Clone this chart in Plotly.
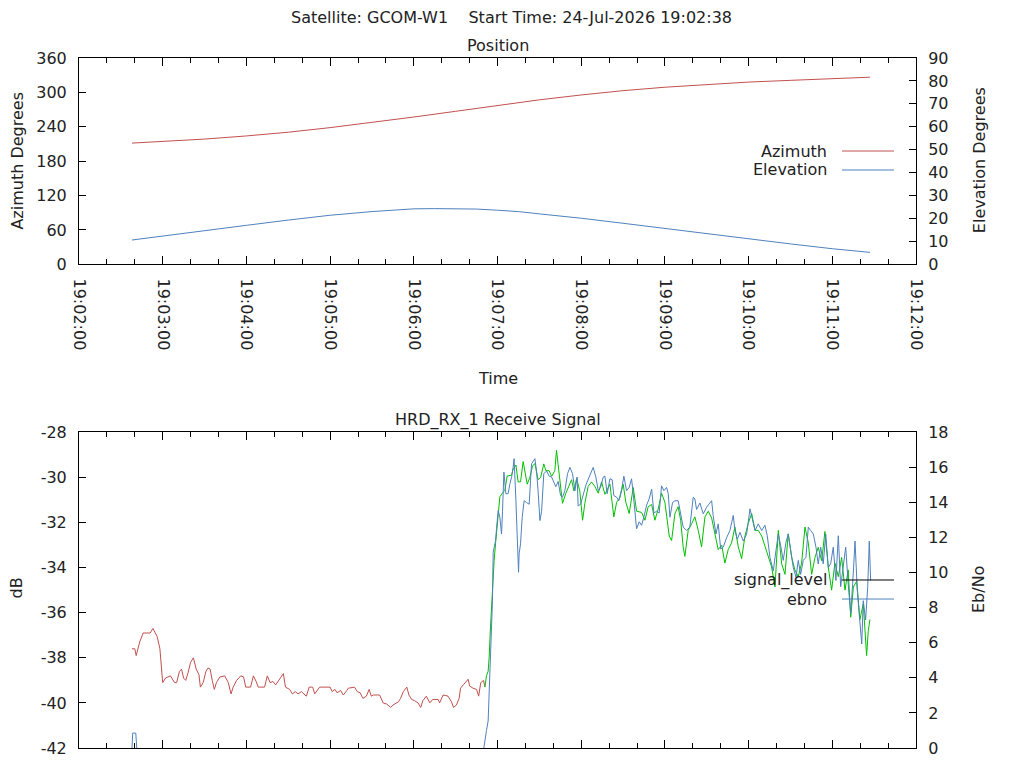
import pandas as pd
import plotly.graph_objects as go

# Pass info
title_text = "Satellite: GCOM-W1    Start Time: 24-Jul-2026 19:02:38"
start = pd.Timestamp("2026-07-24 19:02:00")
end = pd.Timestamp("2026-07-24 19:12:00")

# Position (seconds after 19:02:00)
az_sec = [38, 60, 90, 120, 150, 180, 210, 240, 270, 300, 330, 360, 390, 420, 450, 480, 510, 540, 567]
azimuth = [211.5, 214, 218.5, 224, 230.5, 238.5, 247.5, 257, 267, 277, 287, 295.5, 303, 309, 314, 318, 321, 324, 326.5]
el_sec = [38, 60, 90, 120, 150, 180, 210, 225, 240, 255, 270, 285, 300, 315, 330, 345, 360, 390, 420, 450, 480, 510, 540, 567]
elevation = [10.6, 12.4, 14.8, 17.0, 19.3, 21.4, 23.0, 23.7, 24.2, 24.3, 24.3, 24.1, 23.6, 23.0, 22.0, 21.1, 20.1, 17.9,
             15.6, 13.3, 11.05, 8.9, 6.8, 5.2]

# Signal level before lock (red)
unlock_sec = [38, 40, 41, 43.5, 46, 51, 53, 56, 58, 59, 60, 62, 65.5, 68.5, 70, 72, 73.5, 75, 76.5, 78,
              80, 82, 84, 86, 87, 89, 91, 92.5, 94, 95.5, 97, 98.5, 101, 104.5, 107, 109, 110.5, 113, 116, 118,
              119.5, 123, 125, 127, 128.5, 133, 135, 137, 139, 141, 143, 145, 146.5, 148, 151, 153, 155, 157, 159.5, 162,
              163, 165, 167.5, 169, 171, 172.5, 180, 181.5, 183.5, 185, 187.5, 189.5, 192, 193, 197.5, 199.5, 201.5, 203.5, 206, 208,
              209.5, 211, 213.5, 215.5, 218, 220.5, 223.5, 225, 229, 230.5, 232.5, 235, 236.5, 238.5, 240.5, 243, 245, 246.5,
              249, 251.5, 253.5, 257.5, 258.5, 261, 264.5, 267, 268.5, 270.5, 272.5, 273.5, 275.5, 278, 279, 280, 282.5, 285,
              286.5, 288, 290, 291]
unlock_db = [-37.6, -37.6, -37.9, -37.3, -36.9, -36.9, -36.7, -37.05, -37.6, -38.2, -39.1, -38.9, -38.8, -39.1, -39.1, -38.6, -38.5, -38.9, -39.0, -38.7,
             -38.2, -38.0, -38.5, -38.75, -39.3, -39.1, -38.6, -38.45, -38.5, -39.0, -39.4, -39.1, -38.85, -38.8, -39.1, -39.6, -39.3, -39.0, -38.8, -38.85,
             -39.3, -39.3, -38.8, -39.05, -39.3, -39.3, -38.8, -39.1, -39.05, -39.2, -39.0, -38.8, -38.7, -39.3, -39.4, -39.6, -39.5, -39.6, -39.5, -39.65,
             -39.7, -39.3, -39.3, -39.6, -39.4, -39.3, -39.3, -39.5, -39.4, -39.55, -39.45, -39.65, -39.45, -39.35, -39.3, -39.5, -39.55, -39.8, -39.7, -39.4,
             -39.7, -39.65, -39.65, -39.65, -40.0, -40.05, -40.2, -40.1, -39.95, -39.8, -39.5, -39.3, -39.65, -39.85, -39.9, -40.0, -40.2, -39.9,
             -39.7, -40.0, -39.85, -39.85, -40.0, -39.65, -39.7, -39.95, -40.2, -40.1, -39.8, -39.35, -39.2, -38.98, -38.95, -39.25, -39.35, -39.4,
             -39.7, -39.1, -39.0, -39.3]

# Signal level after lock (green)
lock_sec = [291, 292.1, 293.3, 294.0, 295.0, 295.7, 296.4, 297.6, 298.6, 299.7, 300.5, 301.7, 303.3, 305.3, 306.9, 310.1, 311.2, 313.2,
            314.8, 316.5, 318.4, 319.6, 321.3, 323.2, 325.1, 326.8, 329.1, 330.9, 333.2, 334.7, 337.0, 338.8, 341.1, 342.3, 343.5, 345.2,
            346.6, 349.0, 351.4, 353.1, 354.8, 356.7, 359.0, 361.0, 362.6, 365.0, 367.4, 369.8, 372.2, 374.6, 377.0, 380.6, 383.4, 385.4,
            387.7, 390.1, 392.0, 394.4, 397.3, 399.7, 403.3, 405.7, 408.0, 410.5, 412.8, 415.2, 417.6, 420.0, 423.1, 424.8, 427.2, 429.5,
            431.3, 433.1, 434.3, 436.7, 439.2, 441.5, 443.9, 446.3, 448.7, 451.1, 453.5, 455.9, 458.2, 460.7, 463.0, 465.4, 467.8, 470.2,
            472.6, 475.0, 477.4, 479.7, 482.2, 484.6, 486.9, 489.4, 491.7, 494.1, 496.5, 498.9, 501.3, 503.7, 506.1, 508.4, 510.9, 513.2,
            515.6, 518.0, 520.4, 522.8, 525.2, 527.6, 529.9, 532.4, 534.7, 537.1, 539.5, 541.9, 544.3, 546.7, 549.1, 551.4, 553.2, 555.1,
            557.5, 559.8, 562.2, 564.6, 565.8, 567.0]
lock_db = [-39.3, -38.8, -38.6, -38.0, -36.6, -35.7, -34.86, -33.68, -32.93, -32.2, -31.38, -30.86, -30.71, -30.57, -29.94, -29.9, -29.64, -29.45,
           -30.2, -30.2, -29.3, -29.8, -30.3, -30.0, -29.5, -29.38, -30.1, -30.0, -29.4, -29.7, -29.7, -29.95, -29.7, -28.8, -29.5, -30.5,
           -31.15, -30.7, -30.3, -30.1, -30.6, -30.05, -30.6, -31.9, -31.15, -30.4, -30.2, -30.4, -30.7, -30.2, -30.75, -30.3, -31.75, -31.1,
           -30.9, -30.3, -31.1, -31.6, -30.45, -31.5, -31.55, -31.9, -31.3, -31.2, -31.9, -31.4, -30.7, -31.1, -32.6, -32.8, -31.6, -31.3,
           -31.9, -33.08, -33.5, -32.35, -32.05, -31.75, -32.35, -33.08, -31.75, -31.5, -31.8, -32.5, -33.2, -33.0, -33.8, -33.2, -32.9, -32.2,
           -33.08, -33.6, -32.6, -32.05, -31.6, -32.35, -32.35, -32.6, -33.08, -33.55, -33.97, -34.86, -32.35, -33.83, -34.3, -32.5, -33.55, -34.1,
           -34.4, -33.8, -32.2, -32.9, -34.3, -33.55, -33.1, -33.7, -32.4, -33.97, -35.0, -33.8, -34.4, -33.55, -35.0, -34.1, -36.2, -34.86,
           -34.6, -36.3, -35.6, -37.9, -36.8, -36.3]

# Eb/No (no reading while unlocked -> None)
ebno_sec = [38.0, 38.5, 40.7, 41.4, 160, 290.2, 291.4, 292.1, 293.3, 294.0, 295.0, 295.7, 296.4, 296.9, 298.6, 299.3, 300.5, 301.7, 302.9, 303.6,
            304.6, 306.0, 307.6, 308.9, 310.1, 311.2, 311.9, 313.2, 314.1, 315.1, 315.5, 316.5, 317.7, 319.1, 320.8, 322.7, 323.7, 324.4,
            326.8, 328.0, 329.1, 330.4, 331.6, 333.2, 335.2, 337.0, 338.8, 339.9, 341.8, 343.5, 345.2, 346.6, 348.3, 350.2, 351.9, 353.8,
            355.5, 357.1, 357.8, 359.6, 361.4, 363.4, 365.7, 367.4, 368.6, 370.5, 372.2, 373.9, 375.8, 377.0, 378.6, 380.6, 382.2, 383.4,
            385.4, 387.0, 389.0, 390.6, 392.5, 394.4, 396.1, 397.3, 398.5, 399.7, 401.6, 403.3, 404.9, 406.9, 408.7, 410.5, 412.1, 414.1,
            415.9, 417.6, 419.3, 421.2, 422.4, 423.6, 425.5, 427.2, 429.5, 431.3, 433.1, 435.6, 437.9, 440.3, 441.5, 442.7, 445.1, 447.5,
            449.9, 453.5, 454.6, 456.6, 458.2, 460.0, 461.8, 464.3, 466.6, 469.0, 470.2, 471.9, 473.8, 476.2, 478.6, 481.0, 482.9, 484.6,
            486.9, 489.4, 491.7, 493.4, 495.3, 497.7, 499.6, 501.3, 503.0, 504.8, 506.8, 508.4, 510.2, 512.0, 514.0, 515.6, 517.3, 519.2,
            521.1, 522.8, 524.5, 526.4, 528.3, 529.9, 531.7, 533.5, 535.3, 537.1, 538.8, 540.7, 542.6, 544.3, 546.0, 547.9, 549.6, 551.4,
            553.2, 554.6, 556.3, 557.9, 559.3, 561.1, 562.2, 563.9, 565.4, 566.5, 567.5]
ebno = [0, 0.85, 0.85, 0, None, 0, 0.78, 1.0, 1.54, 3.26, 5.54, 7.64, 8.4, 11.16, 11.83, 12.5, 13.54, 13.16, 12.2, 13.5,
        15.73, 14.5, 14.5, 15.07, 15.44, 16.0, 16.5, 14.1, 11.64, 10.02, 11.07, 11.64, 13.16, 14.1, 14.0, 13.9, 15.26, 16.2,
        16.5, 15.8, 14.66, 12.97, 13.5, 15.64, 15.8, 15.5, 15.45, 15.26, 14.9, 15.2, 14.4, 14.3, 14.67, 15.64, 16.0, 15.64,
        14.67, 15.45, 13.8, 13.9, 14.5, 15.0, 15.45, 15.8, 16.0, 15.45, 14.67, 14.86, 15.45, 15.5, 14.5, 15.35, 15.3, 14.4,
        14.3, 14.1, 14.76, 15.5, 14.67, 14.86, 15.35, 14.5, 13.66, 12.5, 12.9, 12.7, 13.16, 13.85, 14.2, 14.76, 13.4, 13.5,
        13.4, 14.95, 14.67, 14.86, 14.5, 13.16, 14.0, 14.1, 14.1, 13.26, 12.6, 12.4, 12.6, 14.3, 14.2, 13.6, 13.97, 13.35,
        13.73, 14.1, 13.26, 12.2, 12.78, 11.35, 11.45, 12.0, 12.4, 13.26, 12.4, 11.9, 12.3, 11.8, 12.2, 13.64, 12.97, 12.4,
        12.78, 12.4, 12.7, 12.1, 10.87, 10.1, 11.26, 12.2, 11.55, 10.7, 11.73, 12.2, 11.26, 10.3, 9.73, 10.7, 9.9, 10.7,
        10.87, 12.59, 12.4, 12.2, 11.45, 10.5, 11.45, 10.5, 12.2, 10.3, 10.5, 11.45, 9.55, 12.1, 9.2, 10.5, 11.45, 9.35,
        7.64, 9.35, 11.8, 9.0, 7.64, 5.93, 8.4, 7.3, 9.2, 11.8, 9.55]

az_ticks = [0, 60, 120, 180, 240, 300, 360]
db_ticks = [-42, -40, -38, -36, -34, -32, -30, -28]


def to_time(secs):
    return start + pd.to_timedelta(secs, unit="s")


RED = "#c0504d"
BLUE = "#4f81bd"
GREEN = "#00c000"
FONT = dict(family="DejaVu Sans", size=16, color="#222222")

fig = go.Figure()
fig.add_trace(go.Scatter(x=to_time(az_sec), y=azimuth, mode="lines", line=dict(color=RED, width=1),
                         xaxis="x", yaxis="y", showlegend=False))
fig.add_trace(go.Scatter(x=to_time(el_sec), y=elevation, mode="lines", line=dict(color=BLUE, width=1),
                         xaxis="x", yaxis="y2", showlegend=False))
fig.add_trace(go.Scatter(x=to_time(unlock_sec), y=unlock_db, mode="lines", line=dict(color=RED, width=1),
                         xaxis="x2", yaxis="y3", showlegend=False))
fig.add_trace(go.Scatter(x=to_time(lock_sec), y=lock_db, mode="lines", line=dict(color=GREEN, width=1),
                         xaxis="x2", yaxis="y3", showlegend=False))
fig.add_trace(go.Scatter(x=to_time(ebno_sec), y=ebno, mode="lines", line=dict(color=BLUE, width=1),
                         xaxis="x2", yaxis="y4", showlegend=False, connectgaps=False))

xcommon = dict(type="date", range=[start, end], dtick=60000, tickformat="%H:%M:%S",
               ticks="inside", ticklen=8, tickcolor="black", showline=True, linecolor="black",
               linewidth=1, mirror="ticks", showgrid=False, zeroline=False, automargin=False,
               minor=dict(ticks="inside", ticklen=5, dtick=20000, tickcolor="black", showgrid=False))
ycommon = dict(ticks="inside", ticklen=7, tickcolor="black", showline=True, linecolor="black",
               linewidth=1, showgrid=False, zeroline=False, ticklabelstandoff=8, automargin=False)

# the page body adds an 8px offset, so the figure is 8px smaller and margins shifted
fig.update_layout(
    width=1016, height=760,
    margin=dict(l=71, r=108, t=50, b=20, autoexpand=False),
    paper_bgcolor="white", plot_bgcolor="white",
    font=FONT, showlegend=False,
    xaxis=dict(**xcommon, domain=[0, 1], anchor="y", tickangle=90, ticklabelstandoff=10),
    yaxis=dict(**ycommon, domain=[0.701, 1], range=[0, 360], tickvals=az_ticks),
    yaxis2=dict(**ycommon, overlaying="y", side="right", anchor="x", range=[0, 90], dtick=10),
    xaxis2=dict(**xcommon, domain=[0, 1], anchor="y3", showticklabels=False),
    yaxis3=dict(**ycommon, domain=[0, 0.4575], range=[-42, -28], tickvals=db_ticks,
                ticktext=[str(v) for v in db_ticks]),
    yaxis4=dict(**ycommon, overlaying="y3", side="right", anchor="x2", range=[0, 18], dtick=2),
)

# titles and axis labels (gnuplot-like placement)
notes = [
    (title_text, 0.517, 1.058, 0),
    ("Position", 0.5, 1.0174, 0),
    ("Time", 0.5, 0.5348, 0),
    ("HRD_RX_1 Receive Signal", 0.5, 0.4754, 0),
    ("Azimuth Degrees", -0.0735, 0.852, -90),
    ("Elevation Degrees", 1.0753, 0.852, -90),
    ("dB", -0.0735, 0.2319, -90),
    ("Eb/No", 1.0753, 0.229, -90),
]
for text, x, y, ang in notes:
    fig.add_annotation(text=text, x=x, y=y, xref="paper", yref="paper", showarrow=False,
                       textangle=ang, xanchor="center", yanchor="middle", font=FONT)

# keys: text right-justified, sample line to the right
keys = [("Azimuth", RED, 0.8652), ("Elevation", BLUE, 0.8377),
        ("signal_level", "black", 0.2435), ("ebno", BLUE, 0.2159)]
for text, color, y in keys:
    fig.add_annotation(text=text, x=0.896, y=y, xref="paper", yref="paper", showarrow=False,
                       xanchor="right", yanchor="middle", font=FONT)
    fig.add_shape(type="line", x0=0.9116, x1=0.9737, y0=y, y1=y, xref="paper", yref="paper",
                  line=dict(color=color, width=1))

fig.write_html("out.html")
